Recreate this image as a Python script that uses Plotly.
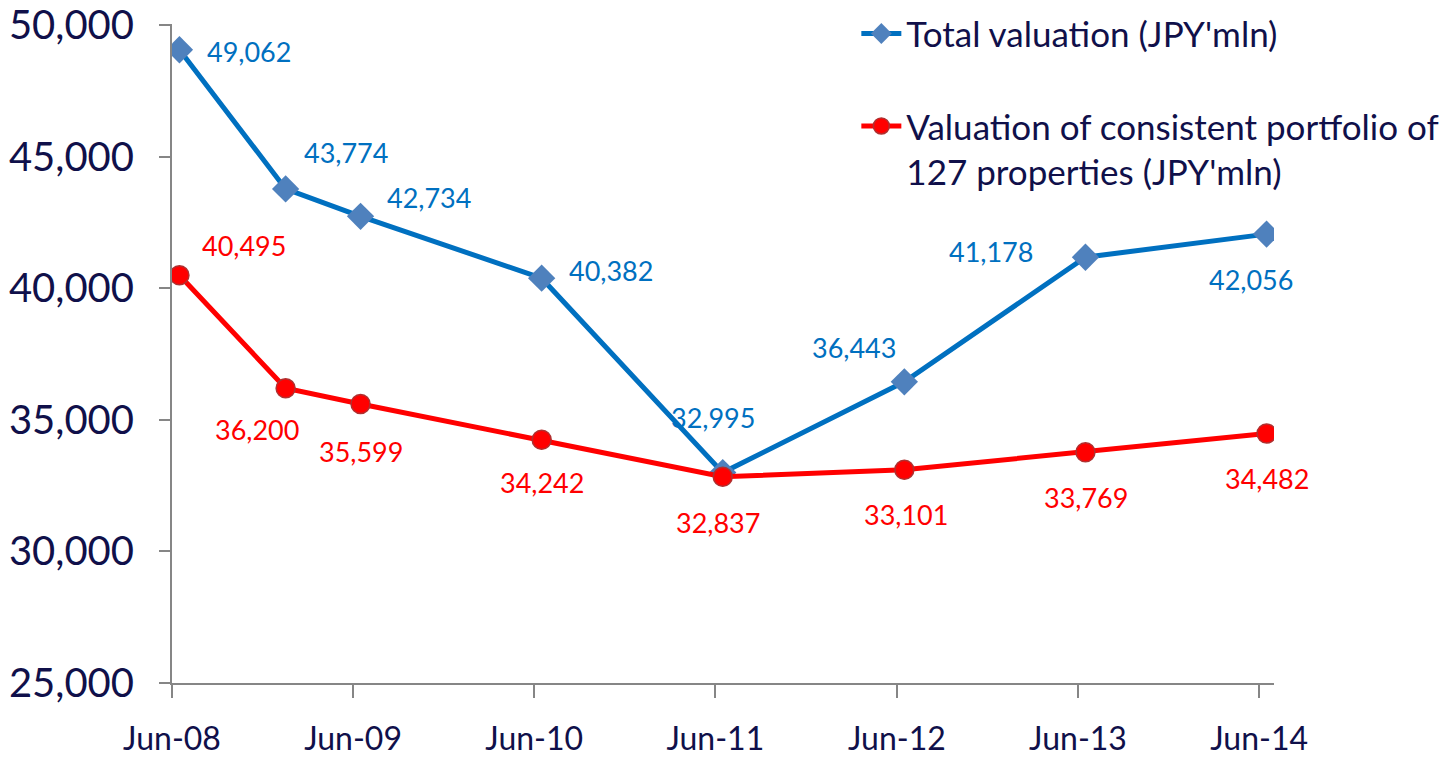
import plotly.graph_objects as go

# ---- data ----
dates = ["2008-06-16", "2009-01-16", "2009-06-16", "2010-06-16",
         "2011-06-16", "2012-06-16", "2013-06-16", "2014-06-16"]
total_valuation = [49062, 43774, 42734, 40382, 32995, 36443, 41178, 42056]
consistent_valuation = [40495, 36200, 35599, 34242, 32837, 33101, 33769, 34482]
tick_dates = ["2008-06-01", "2009-06-01", "2010-06-01", "2011-06-01",
              "2012-06-01", "2013-06-01", "2014-06-01"]
tick_labels = ["Jun-08", "Jun-09", "Jun-10", "Jun-11", "Jun-12", "Jun-13", "Jun-14"]
y_ticks = [25000, 30000, 35000, 40000, 45000, 50000]
name_total = "Total valuation (JPY'mln)"
name_consistent = "Valuation of consistent portfolio of<br>127 properties (JPY'mln)"

# label offsets (px)
blue_offsets = [(70, -2), (60, 36), (68, 19), (69, 8), (-10, 55), (-50, 34), (-94, 6), (-16, -45)]
red_offsets = [(65, 30), (-29, -41), (0, -47), (0, -43), (-5, -46), (2, -45), (1, -45), (0, -45)]

FONT = "Lato"
BLUE = "#0070C0"
RED = "#FF0000"
NAVY = "#10104A"
GRAY = "#868686"

fig = go.Figure()
fig.add_trace(go.Scatter(
    x=dates, y=total_valuation, name=name_total, mode="lines+markers",
    legendgroup="a",
    line=dict(color=BLUE, width=5),
    marker=dict(symbol="diamond", size=21, color="#4F81BD", line=dict(width=0)),
))
fig.add_trace(go.Scatter(
    x=dates, y=consistent_valuation, name=name_consistent, mode="lines+markers",
    legendgroup="b",
    line=dict(color=RED, width=5),
    marker=dict(symbol="circle", size=19, color=RED, line=dict(width=1.5, color="#B03030")),
))

for d, v, (dx, dy) in zip(dates, total_valuation, blue_offsets):
    fig.add_annotation(x=d, y=v, text=f"{v:,}", showarrow=False, xshift=dx, yshift=dy,
                       font=dict(family=FONT, size=27, color=BLUE))
for d, v, (dx, dy) in zip(dates, consistent_valuation, red_offsets):
    fig.add_annotation(x=d, y=v, text=f"{v:,}", showarrow=False, xshift=dx, yshift=dy,
                       font=dict(family=FONT, size=27, color=RED))

fig.update_layout(
    width=1441, height=757,
    margin=dict(l=172, r=167, t=24, b=74, autoexpand=False),
    plot_bgcolor="white", paper_bgcolor="white",
    font=dict(family=FONT, color=NAVY),
    showlegend=True,
    legend=dict(x=0.621, y=1.03, xanchor="left", yanchor="top",
                font=dict(family=FONT, size=35, color=NAVY),
                bgcolor="rgba(0,0,0,0)", tracegroupgap=44, valign="top",
                traceorder="grouped", itemwidth=40),
    xaxis=dict(type="date", range=["2008-06-01", "2014-07-01"],
               tickmode="array", tickvals=tick_dates, ticktext=tick_labels,
               showgrid=False, zeroline=False, automargin=False,
               showline=True, linecolor=GRAY, linewidth=2,
               ticks="outside", ticklen=13, tickcolor=GRAY, tickwidth=2,
               tickfont=dict(family=FONT, size=32, color=NAVY),
               ticklabelstandoff=14),
    yaxis=dict(range=[25000, 50040], tickmode="array",
               tickvals=y_ticks, ticktext=[f"{t:,}" for t in y_ticks],
               showgrid=False, zeroline=False, automargin=False,
               showline=True, linecolor=GRAY, linewidth=2,
               ticks="outside", ticklen=11, tickcolor=GRAY, tickwidth=2,
               tickfont=dict(family=FONT, size=40, color=NAVY),
               ticklabelstandoff=17),
)

fig.write_html("out.html", config={"displayModeBar": False},
               post_script="document.body.style.margin='0';")
